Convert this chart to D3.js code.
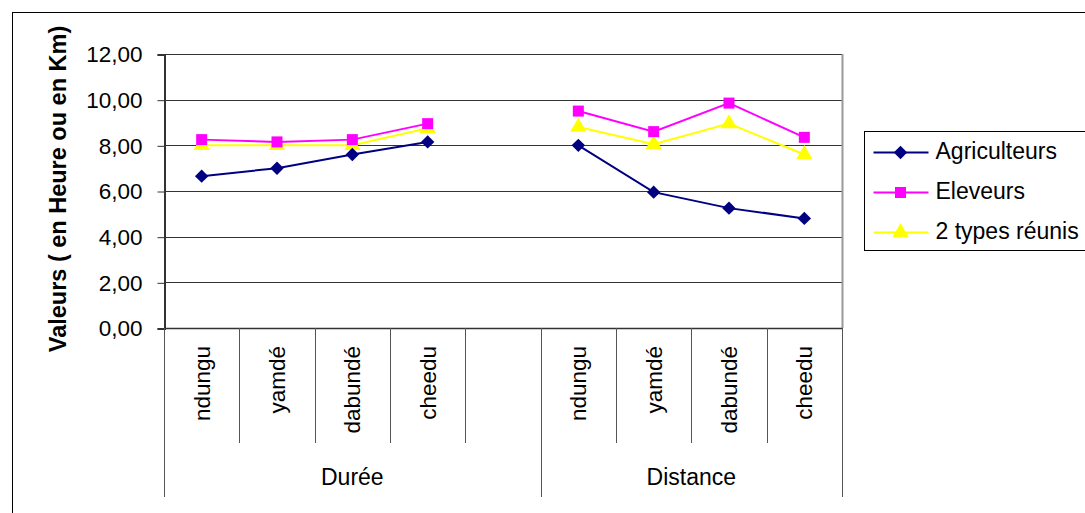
<!DOCTYPE html>
<html>
<head>
    <title>Valeurs par groupe</title>
    <style>
        body { margin: 0; background: #fff; }
        svg { display: block; font-family: Arial, "Liberation Sans", sans-serif; }
        .grid line { stroke: #333; stroke-width: 1px; }
        .series-line { fill: none; stroke-width: 2px; }
    </style>
</head>
<body>
    <div id="chart"></div>
    <script src="https://cdnjs.cloudflare.com/ajax/libs/d3/7.8.5/d3.min.js"></script>
    <script>
        // categories (empty slot between the two groups, as in the original sheet)
        const groups = ["Durée", "Distance"];
        const places = ["ndungu", "yamdé", "dabundé", "cheedu"];
        const slots = [
            ["Durée", "ndungu"], ["Durée", "yamdé"], ["Durée", "dabundé"], ["Durée", "cheedu"], ["Durée", ""],
            ["Distance", "ndungu"], ["Distance", "yamdé"], ["Distance", "dabundé"], ["Distance", "cheedu"]
        ];
        const yTicks = [0, 2, 4, 6, 8, 10, 12];

        // series values: Durée x4, (blank), Distance x4
        const agriculteurs = [6.65, 7.0, 7.6, 8.15, null, 8.0, 5.95, 5.25, 4.8];
        const eleveurs = [8.25, 8.15, 8.25, 8.95, null, 9.5, 8.6, 9.85, 8.35];
        const reunis = [8.0, 8.0, 8.0, 8.75, null, 8.8, 8.05, 8.95, 7.6];

        const series = [
            { name: "Agriculteurs", values: agriculteurs, color: "#000080", symbol: "diamond" },
            { name: "Eleveurs", values: eleveurs, color: "#ff00ff", symbol: "square" },
            { name: "2 types réunis", values: reunis, color: "#ffff00", symbol: "triangle" }
        ];

        const W = 1085, H = 513;
        const plot = { left: 164, right: 842, top: 54, bottom: 328 };

        const svg = d3.select("#chart").append("svg")
            .attr("width", W).attr("height", H);

        // outer frame (runs off the right and bottom edges)
        svg.append("rect")
            .attr("x", 12.5).attr("y", 12.5)
            .attr("width", W + 20).attr("height", H + 20)
            .attr("fill", "none").attr("stroke", "#000");

        const keys = slots.map(d => d[0] + "|" + d[1]);
        const x = d3.scaleBand().domain(keys).range([plot.left, plot.right]).padding(0);
        const y = d3.scaleLinear().domain([0, 12]).range([plot.bottom, plot.top]);

        const comma = d3.formatLocale({ decimal: ",", thousands: " ", grouping: [3], currency: ["", "€"] }).format(".2f");

        // gridlines
        svg.append("g").attr("class", "grid")
            .selectAll("line").data(yTicks.filter(t => t > 0)).join("line")
            .attr("x1", plot.left).attr("x2", plot.right)
            .attr("y1", d => Math.round(y(d)) + 0.5).attr("y2", d => Math.round(y(d)) + 0.5);

        // right edge of plot area
        svg.append("line")
            .attr("x1", plot.right + 0.5).attr("x2", plot.right + 0.5)
            .attr("y1", plot.top).attr("y2", plot.bottom)
            .attr("stroke", "#999").attr("stroke-width", 2);

        // y axis
        const yAxis = svg.append("g")
            .attr("transform", `translate(${plot.left + 0.5},0.5)`)
            .call(d3.axisLeft(y).tickValues(yTicks).tickFormat(comma).tickSize(7).tickPadding(15));
        yAxis.select(".domain").attr("stroke", "#333").attr("stroke-width", 2);
        yAxis.selectAll(".tick line").attr("stroke", "#333");
        yAxis.selectAll("text").attr("font-size", 22.5).attr("fill", "#000")
            .attr("font-family", "Arial, 'Liberation Sans', sans-serif");

        // x axis baseline
        svg.append("line")
            .attr("x1", plot.left).attr("x2", plot.right)
            .attr("y1", plot.bottom + 0.5).attr("y2", plot.bottom + 0.5)
            .attr("stroke", "#333").attr("stroke-width", 1.5);

        // category separators
        const inner = keys.slice(1).filter((k, i) => slots[i + 1][0] === slots[i][0]);
        svg.append("g").selectAll("line").data(inner).join("line")
            .attr("x1", d => Math.round(x(d)) + 0.5).attr("x2", d => Math.round(x(d)) + 0.5)
            .attr("y1", plot.bottom).attr("y2", 443)
            .attr("stroke", "#555");

        // group separators
        const groupEdges = [plot.left];
        groups.forEach(g => {
            const last = keys.filter((k, i) => slots[i][0] === g).pop();
            groupEdges.push(x(last) + x.bandwidth());
        });
        svg.append("g").selectAll("line").data(groupEdges).join("line")
            .attr("x1", d => Math.round(d) + 0.5).attr("x2", d => Math.round(d) + 0.5)
            .attr("y1", plot.bottom).attr("y2", 497)
            .attr("stroke", "#555");

        // category labels (rotated)
        svg.append("g").selectAll("text").data(slots.map((s, i) => ({ key: keys[i], label: s[1] })).filter(d => d.label))
            .join("text")
            .attr("transform", d => `translate(${x(d.key) + x.bandwidth() / 2 + 8},346) rotate(-90)`)
            .attr("text-anchor", "end")
            .attr("font-size", 22.5)
            .text(d => d.label);

        // group labels
        groups.forEach((g, i) => {
            svg.append("text")
                .attr("x", (groupEdges[i] + groupEdges[i + 1]) / 2)
                .attr("y", 485)
                .attr("text-anchor", "middle")
                .attr("font-size", 23)
                .text(g);
        });

        // y axis title
        svg.append("text")
            .attr("transform", `translate(66,189) rotate(-90)`)
            .attr("text-anchor", "middle")
            .attr("font-size", 23.5)
            .attr("font-weight", "bold")
            .text("Valeurs ( en Heure ou en Km)");

        // markers
        const symbols = {
            diamond: d3.symbol().type(d3.symbolSquare).size(90),
            square: d3.symbol().type(d3.symbolSquare).size(121),
            triangle: d3.symbol().type(d3.symbolTriangle).size(115)
        };
        const rot = s => s === "diamond" ? " rotate(45)" : "";

        const line = d3.line()
            .defined(d => d.v !== null)
            .x(d => x(d.k) + x.bandwidth() / 2)
            .y(d => y(d.v));

        // draw back to front so navy sits on top like in the original
        [...series].reverse().forEach(s => {
            const pts = s.values.map((v, i) => ({ k: keys[i], v }));
            svg.append("path")
                .datum(pts)
                .attr("class", "series-line")
                .attr("stroke", s.color)
                .attr("d", line);
            svg.append("g").selectAll("path").data(pts.filter(d => d.v !== null)).join("path")
                .attr("d", symbols[s.symbol])
                .attr("transform", d => `translate(${x(d.k) + x.bandwidth() / 2},${y(d.v)})${rot(s.symbol)}`)
                .attr("fill", s.color);
        });

        // legend
        const legend = svg.append("g").attr("transform", "translate(864.5,131.5)");
        legend.append("rect")
            .attr("width", 240).attr("height", 119)
            .attr("fill", "#fff").attr("stroke", "#000");
        series.forEach((s, i) => {
            const row = legend.append("g").attr("transform", `translate(0,${21 + i * 40})`);
            row.append("line")
                .attr("x1", 9).attr("x2", 64)
                .attr("stroke", s.color).attr("stroke-width", 2);
            row.append("path")
                .attr("d", symbols[s.symbol])
                .attr("transform", `translate(36,0)${rot(s.symbol)}`)
                .attr("fill", s.color);
            row.append("text")
                .attr("x", 71).attr("y", 6)
                .attr("font-size", 23)
                .text(s.name);
        });
    </script>
</body>
</html>
